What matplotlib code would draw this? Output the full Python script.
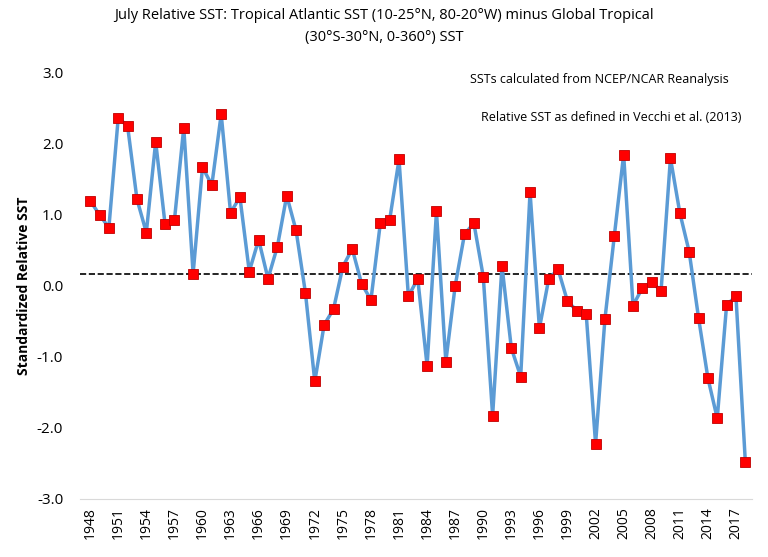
import numpy as np
import matplotlib.pyplot as plt

years = list(range(1948, 2019))
sst = [1.20, 1.00, 0.82, 2.37, 2.25, 1.22, 0.75, 2.03, 0.87, 0.92,
       2.23, 0.17, 1.67, 1.42, 2.42, 1.03, 1.25, 0.20, 0.65, 0.10,
       0.55, 1.27, 0.78, -0.10, -1.35, -0.55, -0.33, 0.27, 0.52, 0.03,
       -0.20, 0.88, 0.93, 1.78, -0.15, 0.10, -1.13, 1.05, -1.07, 0.00,
       0.73, 0.88, 0.13, -1.83, 0.28, -0.88, -1.28, 1.32, -0.60, 0.10,
       0.23, -0.22, -0.35, -0.40, -2.23, -0.47, 0.70, 1.85, -0.28, -0.03,
       0.05, -0.07, 1.80, 1.03, 0.48, -0.45, -1.30, -1.87, -0.27, -0.15,
       -2.48]
mean_level = 0.17
tick_years = list(range(1948, 2019, 3))

plt.rcParams['font.family'] = ['Open Sans', 'DejaVu Sans']
fig = plt.figure(figsize=(7.68, 5.57), dpi=100)
ax = fig.add_axes([0.104, 0.105, 0.875, 0.764])

ax.plot(years, sst, color='#5b9bd5', lw=2.5, zorder=2)
ax.plot(years, sst, ls='none', marker='s', ms=6.5, mfc='#ff0000',
        mec='#c00000', mew=0.6, zorder=3)
ax.axhline(mean_level, color='black', ls='--', lw=1.2, zorder=1)

ax.set_xlim(1946.9, 2018.7)
ax.set_ylim(-3.0, 3.0)
ax.set_yticks(np.arange(-3, 3.1, 1))
ax.set_yticklabels([f'{v:.1f}' for v in np.arange(-3, 3.1, 1)], fontsize=11)
ax.set_xticks(tick_years)
ax.set_xticklabels([str(y) for y in tick_years], rotation=90, fontsize=10)
ax.tick_params(length=0)
ax.tick_params(axis='x', pad=6)
ax.tick_params(axis='y', pad=12)
ax.set_ylabel('Standardized Relative SST', fontsize=10, fontweight='bold')
for s in ['top', 'right', 'left']:
    ax.spines[s].set_visible(False)
ax.spines['bottom'].set_color('#d9d9d9')

fig.text(0.5, 0.985, 'July Relative SST: Tropical Atlantic SST (10-25°N, 80-20°W) minus Global Tropical\n(30°S-30°N, 0-360°) SST',
         ha='center', va='top', fontsize=10.5, linespacing=1.6)
ax.text(0.965, 1.0, 'SSTs calculated from NCEP/NCAR Reanalysis',
        transform=ax.transAxes, ha='right', va='top', fontsize=9)
ax.text(0.985, 0.91, 'Relative SST as defined in Vecchi et al. (2013)',
        transform=ax.transAxes, ha='right', va='top', fontsize=9)

fig.savefig('out.png', dpi=100)
